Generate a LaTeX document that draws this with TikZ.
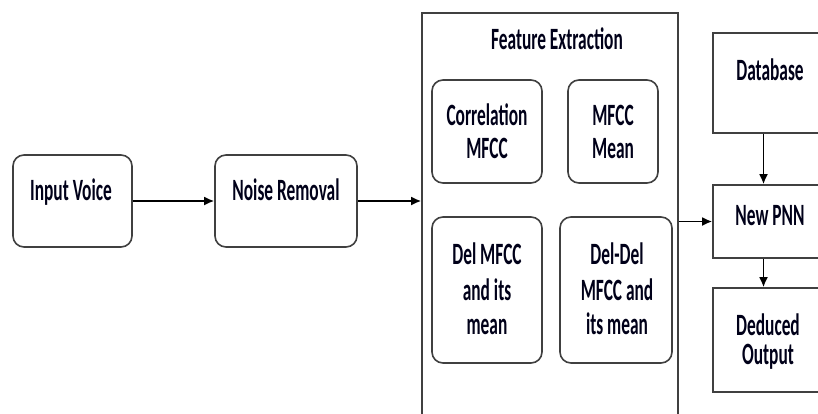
\documentclass[tikz,border=0pt]{standalone}
\usepackage{fontspec}
\newfontfamily\cf[FakeStretch=0.56]{Carlito}
\usetikzlibrary{arrows.meta}
\begin{document}
\begin{tikzpicture}[x=1pt,y=-1pt,
  box/.style={draw=black!75, line width=1.6pt, inner sep=0pt},
  rbox/.style={box, rounded corners=11pt},
  txt/.style={font=\cf\bfseries\fontsize{31}{34}\selectfont, text=black!90!blue, anchor=base, align=center, inner sep=0pt},
  arr/.style={line width=1.8pt, -{Latex[length=10pt,width=9pt]}}]
\useasboundingbox (0,0) rectangle (818,413);
\clip (0,0) rectangle (818,413);
\fill[white] (0,0) rectangle (818,413);
% boxes
\node[rbox, minimum width=119pt, minimum height=92pt] (inp) at (72.5,201) {};
\node[rbox, minimum width=142pt, minimum height=92pt] (noise) at (286,201) {};
\node[box, minimum width=256pt, minimum height=407pt] (feat) at (550,216.5) {};
\node[rbox, minimum width=110pt, minimum height=103pt] (corr) at (487,131.5) {};
\node[rbox, minimum width=90pt, minimum height=103pt] (mean) at (613,131.5) {};
\node[rbox, minimum width=110pt, minimum height=146pt] (del) at (487,290) {};
\node[rbox, minimum width=112pt, minimum height=146pt] (deldel) at (616,290) {};
\node[box, minimum width=117pt, minimum height=100pt] (db) at (771.5,83) {};
\node[box, minimum width=117pt, minimum height=73pt] (pnn) at (771.5,221.5) {};
\node[box, minimum width=117pt, minimum height=104pt] (ded) at (771.5,340) {};
% texts
\node[txt] (tinp) at (71,200) {Input Voice};
\node[txt] (tnoise) at (286,200) {Noise Removal};
\node[txt] (tfeat) at (557,49) {Feature Extraction};
\node[txt] (tcorr1) at (487,125) {Correlation};
\node[txt] (tcorr2) at (487,158) {MFCC};
\node[txt] (tmean1) at (613,125) {MFCC};
\node[txt] (tmean2) at (613,158) {Mean};
\node[txt] (tdel1) at (487,264) {Del MFCC};
\node[txt] (tdel2) at (487,300) {and its};
\node[txt] (tdel3) at (487,334) {mean};
\node[txt] (tdd1) at (617,264) {Del-Del};
\node[txt] (tdd2) at (617,300) {MFCC and};
\node[txt] (tdd3) at (617,334) {its mean};
\node[txt] (tdb) at (770,80) {Database};
\node[txt] (tpnn) at (770,225) {New PNN};
\node[txt] (tded1) at (768,335) {Deduced};
\node[txt] (tded2) at (768,364) {Output};
% connectors
\draw[arr] (inp.east) -- (noise.west);
\draw[arr] (noise.east) -- (noise.east -| feat.west);
\draw[arr] (pnn.west -| feat.east) -- (pnn.west);
\draw[arr] ([xshift=-8pt]db.south) -- ([xshift=-8pt]pnn.north);
\draw[arr] ([xshift=-8pt]pnn.south) -- ([xshift=-8pt]ded.north);
\end{tikzpicture}
\end{document}
